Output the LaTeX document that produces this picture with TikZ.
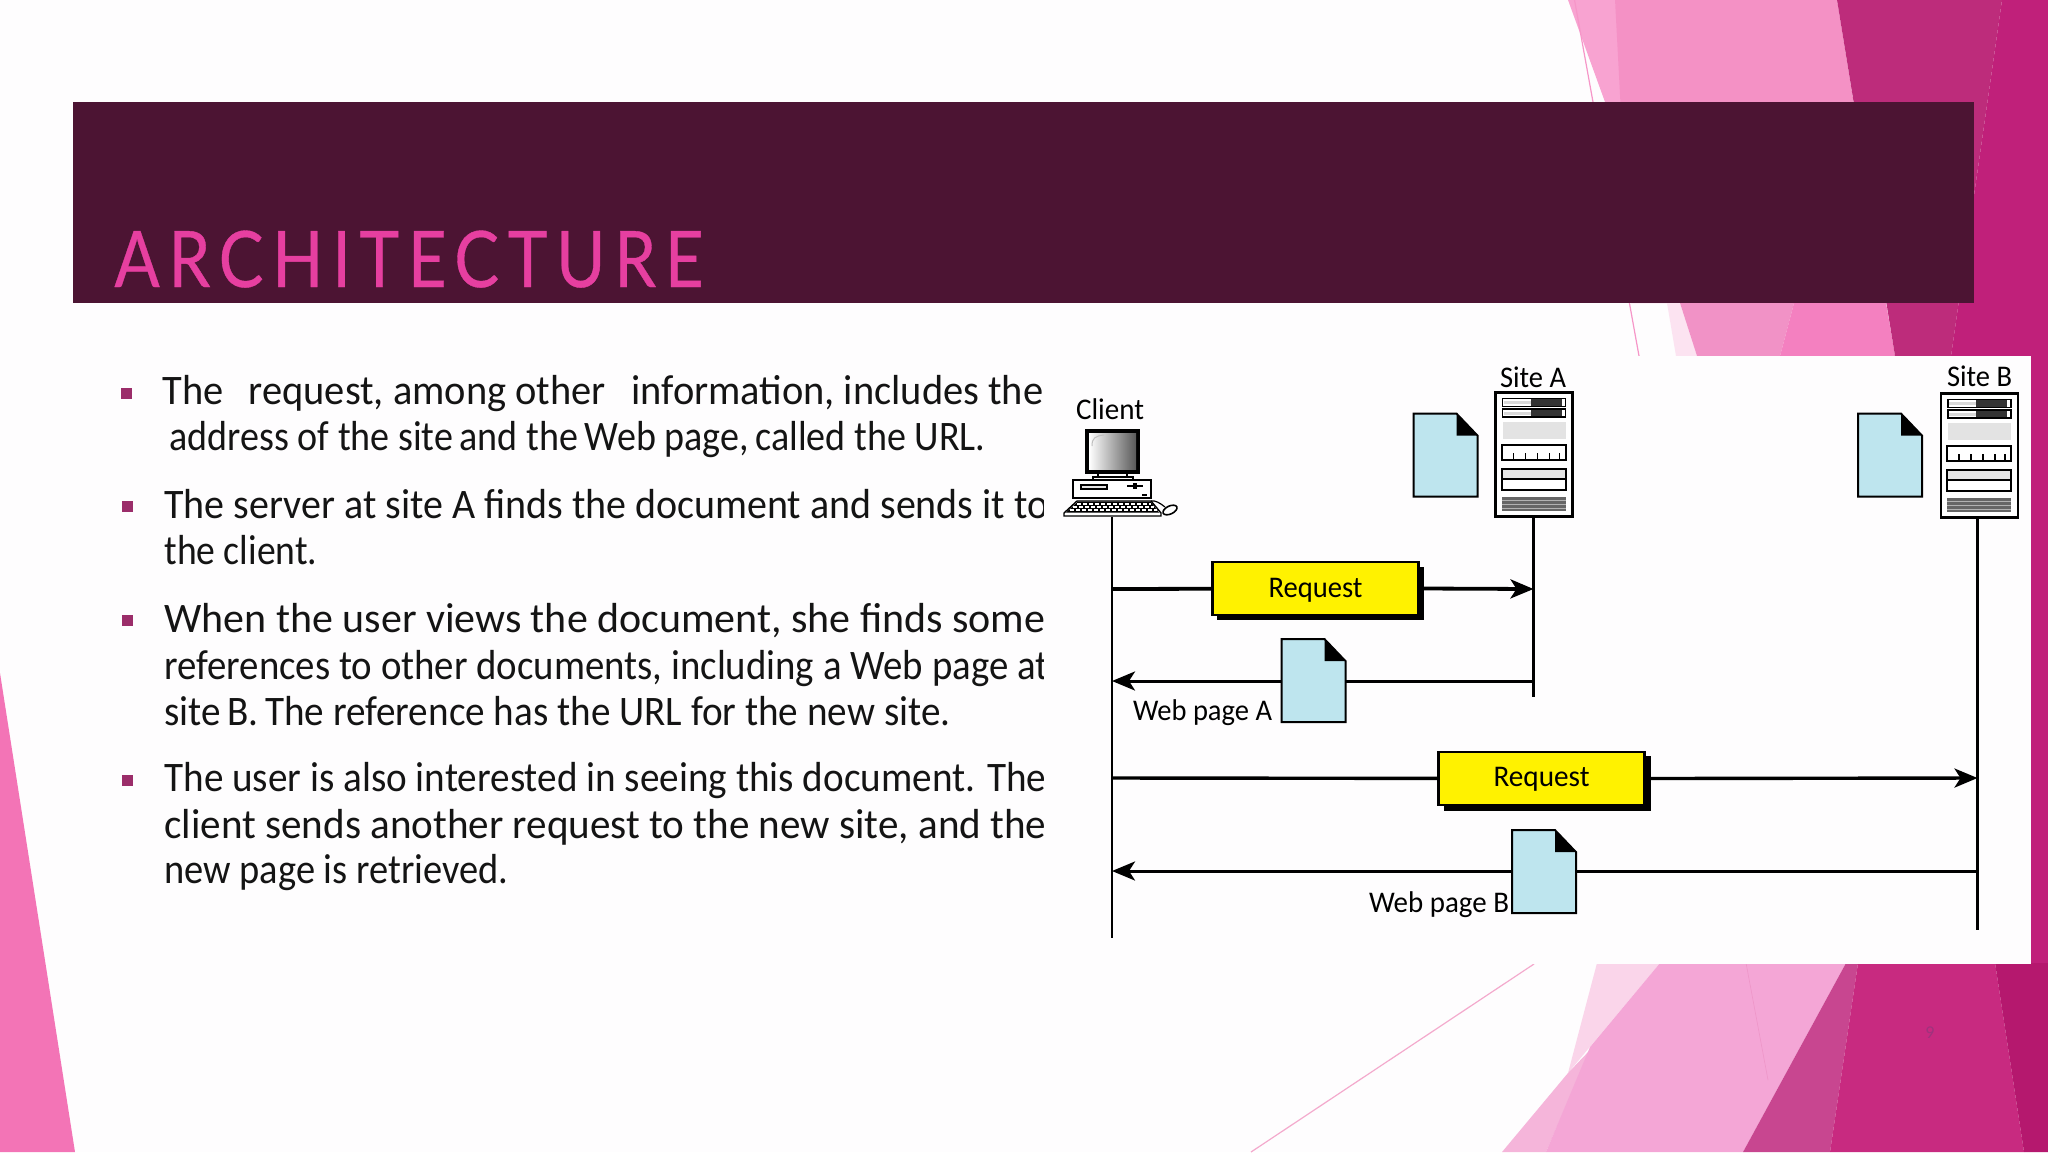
\documentclass[tikz,border=0pt]{standalone}
\usepackage{fontspec}
\usepackage{graphicx}
\setmainfont{Carlito}
\newfontfamily\titlefont[LetterSpace=13,FakeBold=0.5]{Lato}
\usetikzlibrary{arrows.meta}
\definecolor{paper}{HTML}{FEFDFE}
\definecolor{barc}{HTML}{4C1433}
\definecolor{titlec}{HTML}{E63FA0}
\definecolor{bulletc}{HTML}{9B2D6A}
\definecolor{docc}{HTML}{BEE5EE}
\newsavebox\linebox
\newcommand{\fitline}[2]{\sbox\linebox{#2}\ifdim\wd\linebox>#1\relax\pgfmathsetmacro\fitr{#1/\wd\linebox}\scalebox{\fitr}[1]{\usebox\linebox}\else\makebox[#1][s]{#2}\fi}
\tikzset{
  bodyline/.style={anchor=base west,inner sep=0pt,text=black!92,font=\fontsize{21}{25}\selectfont},
  bulletsq/.style={rectangle,fill=bulletc,minimum size=5.5pt,inner sep=0pt},
  lab/.style={anchor=base,inner sep=0pt,text=black,font=\fontsize{15}{18}\selectfont},
  reqbox/.style={rectangle,draw=black,line width=1.4pt,fill=yellow,inner sep=0pt,minimum width=103pt,minimum height=26.5pt,font=\fontsize{15}{18}\selectfont,text depth=2.8pt},
  docnode/.style={rectangle,inner sep=0pt,minimum width=32pt,minimum height=41.5pt},
  srvnode/.style={rectangle,inner sep=0pt,minimum width=38pt,minimum height=62pt},
  life/.style={line width=1.05pt,black},
  msg/.style={line width=1.5pt,black},
  msgtip/.style={msg,-{Stealth[length=11.5pt,width=9.5pt,inset=3pt]}},
  docpic/.pic={
    \path[fill=docc,draw=black,line width=.9pt] (0,0)--(43,0)--(64,22)--(64,83)--(0,83)--cycle;
    \fill[black] (43,0)--(64,22)--(43,22)--cycle;
  },
  srvpic/.pic={
    \draw[fill=white,line width=1.3pt] (0,0) rectangle (77,124);
    \foreach \yy in {6,16.5}{
      \draw[fill=white,line width=.8pt] (7,\yy) rectangle (70,\yy+8);
      \fill[black!80] (35,\yy+.8) rectangle (66,\yy+7.2);
      \fill[black!15] (8,\yy+2.5) rectangle (35,\yy+5.5);
    }
    \fill[black!11] (7,29) rectangle (70,46);
    \draw[fill=white,line width=1.1pt] (6,52) rectangle (70,67);
    \foreach \xx in {18,30,42,54,64}{\draw[line width=.8pt] (\xx,67) -- (\xx,60);}
    \draw[fill=white,line width=1.1pt] (6,76.5) rectangle (70,97);
    \fill[black!10] (7,77.5) rectangle (69,86);
    \draw[line width=1pt] (6,86) -- (70,86);
    \fill[black!60] (6,104.5) rectangle (70,118.5);
    \foreach \yy in {108,112,115.5}{\draw[white!70!black,line width=.4pt] (6,\yy) -- (70,\yy);}
  }
}
\begin{document}
\begin{tikzpicture}[x=.5pt,y=-.5pt]
\useasboundingbox (0,0) rectangle (2048,1152);
\fill[paper] (0,0) rectangle (2048,1152);
% background shapes, top right
\fill[fill={rgb,255:red,248;green,163;blue,209}] (1568,0)--(1615,0)--(1631,102)--(1605,102)--cycle;
\fill[fill={rgb,255:red,244;green,145;blue,197}] (1615,0)--(1837,0)--(1886,303)--(1631,303)--cycle;
\fill[fill={rgb,255:red,252;green,227;blue,241}] (1667,303)--(1680,303)--(1697,356)--(1676,356)--cycle;
\fill[fill={rgb,255:red,241;green,146;blue,198}] (1680,303)--(1794,303)--(1780,356)--(1697,356)--cycle;
\fill[fill={rgb,255:red,244;green,128;blue,192}] (1794,303)--(1886,303)--(1895,356)--(1780,356)--cycle;
\fill[fill={rgb,255:red,189;green,44;blue,123}] (1837,0)--(2002,0)--(1951,356)--(1895,356)--cycle;
\fill[fill={rgb,255:red,192;green,32;blue,122}] (2002,0)--(2048,0)--(2048,964)--(1951,964)--(1951,356)--cycle;
\draw[line width=.6pt,color={rgb,255:red,246;green,150;blue,200}] (1574.5,0)--(1639,356);
% background shapes, bottom right
\fill[fill={rgb,255:red,250;green,213;blue,234}] (1597,963)--(1660,963)--(1568,1073)--cycle;
\fill[fill={rgb,255:red,245;green,181;blue,218}] (1568,1073)--(1502,1152)--(1546,1152)--(1590,1050)--cycle;
\fill[fill={rgb,255:red,244;green,166;blue,214}] (1660,963)--(1846,963)--(1743,1152)--(1546,1152)--(1590,1047)--cycle;
\fill[fill={rgb,255:red,200;green,70;blue,144}] (1846,963)--(1858,963)--(1830,1152)--(1743,1152)--cycle;
\fill[fill={rgb,255:red,200;green,42;blue,128}] (1858,963)--(1995,963)--(2024,1152)--(1830,1152)--cycle;
\fill[fill={rgb,255:red,181;green,24;blue,110}] (1995,963)--(2048,963)--(2048,1152)--(2024,1152)--cycle;
\draw[line width=.3pt,color={rgb,255:red,238;green,150;blue,200}] (1746,963)--(1768,1080);
\draw[line width=.6pt,color={rgb,255:red,244;green,170;blue,205}] (1534,964)--(1251,1152);
% left wedge
\fill[fill={rgb,255:red,243;green,116;blue,182}] (0,673)--(75,1152)--(0,1152)--cycle;
% page number
\node[inner sep=0pt,text={rgb,255:red,160;green,50;blue,125},font=\fontsize{9}{11}\selectfont] (pagenum) at (1930,1033) {9};
% title bar
\fill[barc] (73,102) rectangle (1974,303);
\node[anchor=base west,inner sep=0pt,text=titlec] (title) at (114,287) {\fitline{294.5pt}{\titlefont\fontsize{39}{44}\selectfont ARCHITECTURE}};
% bullets
\node[bulletsq] (b1) at (126,393) {};
\node[bulletsq] (b2) at (127.5,506) {};
\node[bulletsq] (b3) at (127.5,620) {};
\node[bulletsq] (b4) at (127.5,780) {};
% body text
\node[bodyline] (l1) at (162,404.5) {\fitline{440.5pt}{The\hspace{.4em} request, among other\hspace{.4em} information, includes the}};
\node[bodyline] (l2) at (169,450.5) {\fitline{408pt}{address of the site\,and the\,Web page,\,called the URL.}};
\node[bodyline] (l3) at (164,518.5) {\fitline{442pt}{The server at site A finds the document and sends it to}};
\node[bodyline] (l4) at (164,564.5) {\fitline{76.5pt}{the client.}};
\node[bodyline] (l5) at (164,632.5) {\fitline{440.5pt}{When the user views the document, she finds some}};
\node[bodyline] (l6) at (164,679) {\fitline{442pt}{references to other documents, including a Web page at}};
\node[bodyline] (l7) at (164,725) {\fitline{393pt}{site\,B.\,The reference has the URL for the new site.}};
\node[bodyline] (l8) at (164,791.5) {\fitline{441pt}{The user is also interested in seeing this document. The}};
\node[bodyline] (l9) at (164,838.5) {\fitline{441pt}{client sends another request to the new site, and the}};
\node[bodyline] (l10) at (164,883.5) {\fitline{172pt}{new page is retrieved.}};
% picture panel
\fill[paper] (1044,356) rectangle (2031,964);
% labels
\node[lab] (clientlab) at (1110,419) {\fitline{34pt}{Client}};
\node[lab] (sitealab) at (1533,387) {\fitline{33pt}{Site A}};
\node[lab] (siteblab) at (1979.5,386) {\fitline{32.5pt}{Site B}};
% client computer
\node[rectangle,inner sep=0pt,minimum width=47pt,minimum height=43.5pt] (clientpc) at (1111,473.5) {};
\fill[black] (1085,429) rectangle (1140,474);
\shade[left color=white,right color=black!65] (1089,433) rectangle (1136,469);
\draw[white!75!black,line width=.5pt] (1092,446) .. controls (1092,438) and (1095,436) .. (1104,435);
\draw[fill=white,line width=.7pt] (1098,473) rectangle (1127,477);
\draw[fill=white,line width=.7pt] (1093,477) rectangle (1133,480);
\draw[fill=white,line width=.8pt] (1073,480) rectangle (1151,498);
\draw[fill=black!10,line width=.6pt] (1081,485) rectangle (1107,489);
\fill[black] (1127,484.5) rectangle (1143,486.5);
\fill[black] (1133,483) rectangle (1137,489);
\fill[black] (1142,494) rectangle (1147,496);
\draw[fill=white,line width=.7pt] (1077,501)--(1151,501)--(1161,513)--(1161,516)--(1064,516)--(1064,513)--cycle;
\fill[black] (1078,501.5)--(1150.5,501.5)--(1159,512.5)--(1066,512.5)--cycle;
\foreach \yy/\xa/\xb in {504/1077/1151,507/1073/1154,510/1070/1157}{
  \draw[white,line width=.8pt,dash pattern=on 2.2pt off .8pt] (\xa,\yy)--(\xb,\yy);
}
\draw[line width=.6pt] (1151,501) .. controls (1155,500) and (1160,503) .. (1165,507);
\draw[fill=white,line width=.8pt,rotate around={25:(1170,510)}] (1170,510) ellipse (7.5 and 4);
% servers
\node[srvnode] (srva) at (1534,455) {};
\node[srvnode] (srvb) at (1979.5,456) {};
\pic at (srva.north west) {srvpic};
\pic at (srvb.north west) {srvpic};
% documents beside servers
\node[docnode] (doca) at (1446,455.5) {};
\node[docnode] (docb) at (1890.5,455.5) {};
\pic at (doca.north west) {docpic};
\pic at (docb.north west) {docpic};
% lifeline ends and message end points
\coordinate (clientend) at (1112,938);
\coordinate (siteaend) at (1533.5,697);
\coordinate (sitebend) at (1977.5,930);
\coordinate (c1) at (1112,589);
\coordinate (a1) at (1533.5,589);
\coordinate (c2) at (1112,681);
\coordinate (a2) at (1533.5,681);
\coordinate (c3) at (1112,778);
\coordinate (b3x) at (1977.5,778);
\coordinate (c4) at (1112,871);
\coordinate (b4x) at (1977.5,871);
% lifelines
\draw[life] (clientpc.south -| clientend) -- (clientend);
\draw[life] (srva.south -| siteaend) -- (siteaend);
\draw[life] (srvb.south -| sitebend) -- (sitebend);
% request 1
\fill[black] (1217,567) rectangle (1424,620);
\node[reqbox,text height=12.2pt] (req1) at (1315.5,588.5) {\fitline{47pt}{Request}};
\draw[msg,line width=1.9pt] (c1) -- (req1);
\draw[msgtip,line width=1.9pt] ([xshift=2pt]req1.east) -- (a1);
% web page A
\node[docnode] (weba) at (1314,681) {};
\draw[msg] (a2) -- (weba);
\draw[msgtip] (weba) -- (c2);
\pic at (weba.north west) {docpic};
\node[lab] (webalab) at (1202.5,720.5) {\fitline{69.5pt}{Web page A}};
% request 2
\fill[black] (1444,756) rectangle (1651,811);
\node[reqbox,text height=11.2pt] (req2) at (1541.5,778.5) {\fitline{48pt}{Request}};
\draw[msg,line width=1.7pt] (c3) -- (req2);
\draw[msgtip,line width=1.7pt] ([xshift=2.5pt]req2.east) -- (b3x);
% web page B
\node[docnode] (webb) at (1544.5,872) {};
\draw[msg] (b4x) -- (b4x -| webb.east);
\draw[msgtip] (c4 -| webb.west) -- (c4);
\pic at (webb.north west) {docpic};
\node[lab] (webblab) at (1439,912) {\fitline{70pt}{Web page B}};
\end{tikzpicture}
\end{document}
